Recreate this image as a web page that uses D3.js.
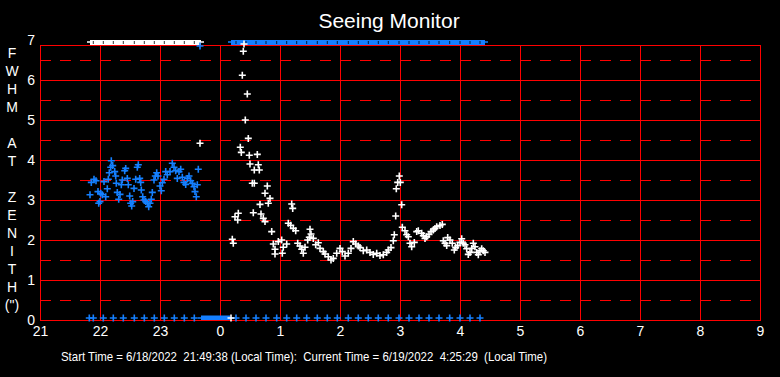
<!DOCTYPE html>
<html>
<head>
<meta charset="utf-8">
<script src="https://cdn.jsdelivr.net/npm/d3@7"></script>
<style>
  html, body { margin: 0; padding: 0; background: #000; }
  svg { display: block; font-family: "Liberation Sans", Arial, sans-serif; }
</style>
</head>
<body>
<div id="chart"></div>
<script>
// all times are minutes after 6/18/2022 21:00 (local)
const blueMin = [50, 51.3, 54, 56, 58, 58.7, 60, 60.7, 62.3, 64, 65.7, 67.3, 68.3, 69.3, 70.7, 71.3, 72.7, 74.7, 75.7, 76.3,
  77.3, 78.7, 80, 81.3, 82.3, 84.7, 85.7, 87.3, 88.3, 89.7, 90.7, 91.7, 92.7, 94, 95.7, 97.3, 98.3, 99.7, 100.7, 101.3,
  102.7, 104, 105.7, 107.3, 108.7, 110, 111.3, 112.3, 114, 115.3, 116.7, 118, 120, 121.3, 122.3, 124, 125.7, 127.3, 130, 132.3,
  134, 135.7, 137.3, 139, 140.7, 142.3, 144, 145.7, 147.3, 149, 150.7, 152.3, 154, 155, 156.3, 157.3, 158.3, 160];
const blueFwhm = [3.13, 3.44, 3.52, 3.48, 3.21, 2.92, 2.96, 3.17, 3.13, 3.46, 3.08, 3.28, 3.52, 3.68, 3.82, 3.98, 3.86, 3.71, 3.6, 3.42,
  3.19, 3.02, 3.14, 3.38, 3.5, 3.73, 3.79, 3.54, 3.38, 3.1, 2.92, 2.85, 2.96, 3.29, 3.52, 3.82, 3.88, 3.54, 3.44, 3.25,
  3.08, 3.0, 2.96, 2.92, 2.83, 2.92, 3.02, 3.19, 3.5, 3.6, 3.68, 3.6, 3.35, 3.23, 3.43, 3.52, 3.71, 3.63, 3.71, 3.92,
  3.82, 3.73, 3.54, 3.71, 3.77, 3.57, 3.44, 3.39, 3.54, 3.6, 3.48, 3.42, 3.33, 3.21, 3.08, 3.38, 3.77, 6.85];

// blue samples sitting on the floor (0")
const blueFloorMin = [49.3, 53.3, 63.3, 73.3, 83.3, 94.3, 104.3, 114.3, 124.3, 134.3, 144.3, 154.3,
  196, 206, 216, 226, 236.7, 246.7, 256.7, 266.7, 277.3, 287.3, 297.3, 308.3, 318.3, 328.3, 338.3, 348.3,
  359, 369, 379, 389, 399, 409.7, 420, 430, 440];

const whiteMin = [160, 191, 192.3, 193.3, 195, 197.7, 198.3, 200.3, 201.3, 202.3, 203.3, 204, 205.3, 207.3, 208.3, 209.3, 210,
  212.3, 213.3, 214.3, 214.3, 217.3, 218.3, 219.3, 220, 221, 223.3, 225, 225, 227.3, 228.3, 230, 231.7, 233.3, 235, 235,
  238.3, 241.7, 242.3, 243.3, 246.7, 248.3, 250.7, 251.7, 252.7, 253.3, 255.7, 257.7, 260, 261.7, 263.3, 265, 267.7, 269.3,
  270, 271, 273.3, 275.7, 278.3, 280, 283.3, 285, 288.3, 291, 293.3, 296.7, 300, 302.3, 305, 308.3, 311, 313.3, 315.7, 318.3,
  320, 323.3, 326.7, 330, 333.3, 336.7, 340, 343.3, 346.7, 348.3, 351, 353.3, 354.3, 355.7, 356.3, 357.7, 359.3, 360.3, 361.7,
  362.3, 365, 366.7, 368.3, 370, 371.7, 374.3, 376.7, 378.3, 381.7, 383.3, 385, 386.7, 389, 391, 393.3, 395, 396.7, 400,
  402.3, 403.3, 405, 406.7, 407.7, 410, 412.3, 414.3, 415.7, 417.7, 420, 421.7, 423.3, 425, 426.7, 428.3, 430, 431.7, 433.3,
  435, 436.7, 438.3, 440, 441.7, 443.3, 445];
const whiteFwhm = [4.42, 0, 2.02, 1.92, 2.58, 2.5, 2.67, 4.32, 4.19, 6.12, 6.72, 6.9, 5.0, 5.65, 4.54, 4.12, 3.9,
  3.42, 2.68, 3.42, 3.75, 4.14, 3.88, 3.75, 2.89, 2.65, 2.54, 2.46, 3.17, 3.35, 2.92, 3.04, 2.21, 1.9, 1.77, 1.65,
  1.96, 2.0, 1.67, 1.82, 1.9, 2.42, 2.37, 2.9, 2.79, 2.29, 2.23, 1.92, 1.85, 1.77, 1.67, 1.82, 2.0, 2.07,
  2.27, 2.15, 2.04, 1.88, 1.93, 1.79, 1.71, 1.65, 1.58, 1.5, 1.54, 1.67, 1.79, 1.71, 1.6, 1.67, 1.79, 1.96, 1.9, 1.85,
  1.81, 1.73, 1.75, 1.69, 1.64, 1.67, 1.61, 1.63, 1.69, 1.75, 1.81, 1.98, 2.13, 2.6, 3.28, 3.44, 3.6, 3.44, 2.88,
  2.32, 2.23, 2.13, 2.08, 1.92, 1.83, 1.94, 2.21, 2.23, 2.17, 2.11, 2.04, 2.08, 2.14, 2.21, 2.25, 2.29, 2.33, 2.36,
  2.39, 1.98, 1.92, 1.86, 2.06, 2.0, 1.92, 1.75, 1.81, 1.86, 1.94, 2.03, 1.92, 1.88, 1.78, 1.64, 1.69, 1.79, 1.92,
  1.83, 1.69, 1.63, 1.73, 1.78, 1.73, 1.69];

// stretches of samples pinned to the top (7") or bottom (0") of the scale
const runColor = ["white", "blue", "blue"];
const runStart = [50, 191, 161];
const runEnd = [161, 445, 190];
const runLevel = [7, 7, 0];

const yTicks = [0, 1, 2, 3, 4, 5, 6, 7];
const yTitle = ["F", "W", "H", "M", "", "A", "T", "", "Z", "E", "N", "I", "T", "H", "(\")"];
const chartTitle = "Seeing Monitor";
const footer = "Start Time = 6/18/2022  21:49:38 (Local Time):  Current Time = 6/19/2022  4:25:29  (Local Time)";

const width = 780, height = 377;
const margin = { top: 40, right: 20, bottom: 57, left: 40 };
const colors = { white: "#ffffff", blue: "#1580ff" };
const t0 = new Date(2022, 5, 18, 21, 0, 0);
const t1 = new Date(2022, 5, 19, 9, 0, 0);
const toDate = m => new Date(t0.getTime() + m * 60000);

const svg = d3.select("#chart").append("svg")
  .attr("width", width).attr("height", height)
  .style("background", "#000");

const x = d3.scaleTime().domain([t0, t1]).range([margin.left, width - margin.right]);
const y = d3.scaleLinear().domain([0, 7]).range([height - margin.bottom, margin.top]);
const frameTop = margin.top + 5;
const yBot = y(0);

// grid
const grid = svg.append("g").attr("stroke", "#ff0000").attr("stroke-width", 1)
  .attr("shape-rendering", "crispEdges");
grid.selectAll("line.h").data(d3.range(1, 7)).join("line")
  .attr("x1", x.range()[0]).attr("x2", x.range()[1])
  .attr("y1", d => y(d) + 0.5).attr("y2", d => y(d) + 0.5);
grid.selectAll("line.d").data(d3.range(0.5, 7, 1)).join("line")
  .attr("x1", x.range()[0]).attr("x2", x.range()[1])
  .attr("y1", d => y(d) + 0.5).attr("y2", d => y(d) + 0.5)
  .attr("stroke-dasharray", "11,9");
grid.selectAll("line.v").data(x.ticks(d3.timeHour.every(1))).join("line")
  .attr("x1", d => x(d) + 0.5).attr("x2", d => x(d) + 0.5)
  .attr("y1", frameTop).attr("y2", yBot);
grid.append("rect")
  .attr("x", x.range()[0] + 0.5).attr("y", frameTop + 0.5)
  .attr("width", x.range()[1] - x.range()[0]).attr("height", yBot - frameTop)
  .attr("fill", "none");

// axes (labels only)
const xAxis = svg.append("g").attr("transform", `translate(0,${yBot})`)
  .call(d3.axisBottom(x).ticks(d3.timeHour.every(1)).tickFormat(d3.timeFormat("%-H")).tickSize(0).tickPadding(6));
const yAxis = svg.append("g").attr("transform", `translate(${margin.left},0)`)
  .call(d3.axisLeft(y).tickValues(yTicks).tickFormat(d3.format("d")).tickSize(0).tickPadding(5));
[xAxis, yAxis].forEach(a => {
  a.select(".domain").remove();
  a.selectAll("text").attr("fill", "#fff").attr("font-size", 14)
    .attr("font-family", "\"Liberation Sans\", Arial, sans-serif");
});
yAxis.selectAll("text").attr("dy", "0.34em");

// pinned runs
const runs = runColor.map((c, i) => ({ c, s: runStart[i], e: runEnd[i], lv: runLevel[i] }));
const clampY = v => Math.max(frameTop - 3, Math.min(yBot - 2, y(v)));
const runG = svg.append("g");
runs.forEach(r => {
  const yc = clampY(r.lv);
  const top = r.lv > 0 ? y(r.lv) : yBot - 4.5;
  runG.append("rect")
    .attr("x", x(toDate(r.s))).attr("y", top)
    .attr("width", x(toDate(r.e)) - x(toDate(r.s))).attr("height", r.lv > 0 ? 5 : 4.5)
    .attr("fill", colors[r.c]);
  runG.append("line")
    .attr("x1", x(toDate(r.s)) - 3).attr("x2", x(toDate(r.e)) + 3)
    .attr("y1", yc).attr("y2", yc)
    .attr("stroke", colors[r.c]).attr("stroke-width", 1.5);
  if (r.lv > 0) {
    runG.selectAll(null)
      .data(blueFloorMin.filter(m => m > r.s + 1 && m < r.e - 1))
      .join("line")
      .attr("x1", m => x(toDate(m))).attr("x2", m => x(toDate(m)))
      .attr("y1", top + 1).attr("y2", top + 4)
      .attr("stroke", "#000").attr("stroke-width", 0.8);
  }
});

// crosses
const cross = "M-3.5,0H3.5M0,-3.5V3.5";
function drawCrosses(times, vals, color) {
  svg.append("g").selectAll("path")
    .data(times.map((m, i) => [m, vals[i]]))
    .join("path")
    .attr("d", cross)
    .attr("transform", d => `translate(${x(toDate(d[0]))},${clampY(d[1])})`)
    .attr("fill", "none")
    .attr("stroke", color)
    .attr("stroke-width", 1.6);
}
drawCrosses(blueFloorMin, blueFloorMin.map(() => 0), colors.blue);
drawCrosses(blueMin, blueFwhm, colors.blue);
drawCrosses(whiteMin, whiteFwhm, colors.white);

// titles
svg.append("text")
  .attr("x", 389).attr("y", 28)
  .attr("text-anchor", "middle")
  .attr("fill", "#fff").attr("font-size", 21)
  .text(chartTitle);

svg.append("g").selectAll("text")
  .data(yTitle).join("text")
  .attr("x", 12).attr("y", (d, i) => 58 + i * 18)
  .attr("text-anchor", "middle")
  .attr("fill", "#fff").attr("font-size", 14)
  .text(d => d);

svg.append("text")
  .attr("x", 61).attr("y", 361)
  .attr("fill", "#fff").attr("font-size", 13.5)
  .style("white-space", "pre")
  .attr("textLength", 486).attr("lengthAdjust", "spacingAndGlyphs")
  .text(footer);
</script>
</body>
</html>
